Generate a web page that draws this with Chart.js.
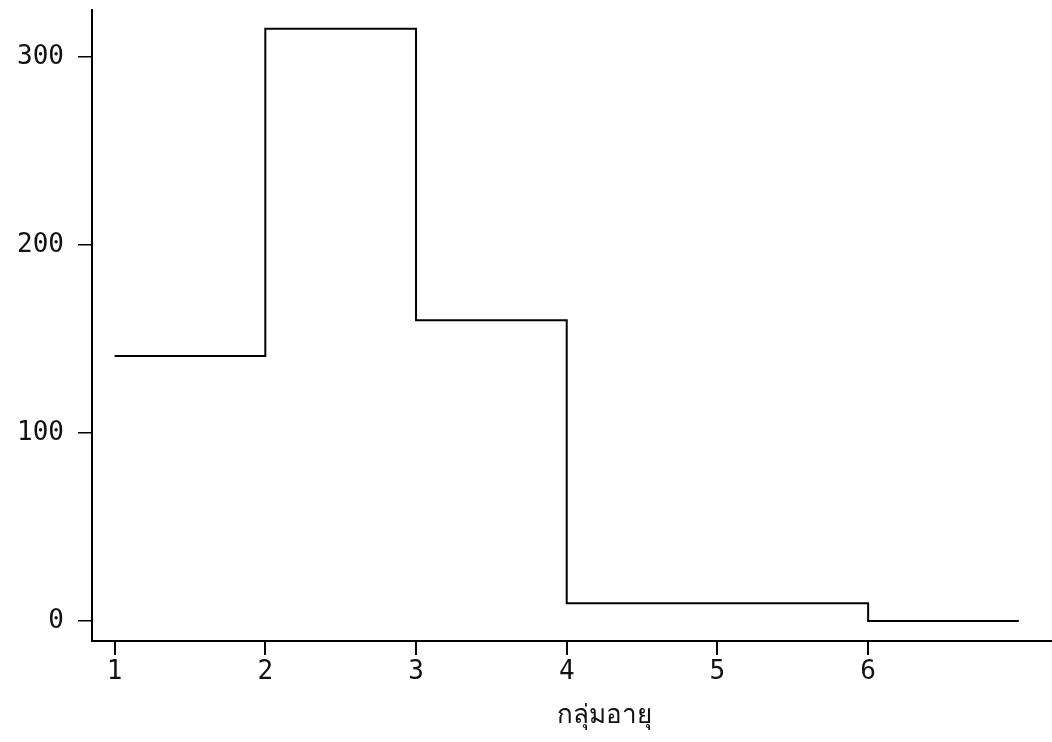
<!DOCTYPE html>
<html>
<head>
<meta charset="utf-8">
<script src="https://cdn.jsdelivr.net/npm/chart.js@4/dist/chart.umd.min.js"></script>
<style>
html,body{margin:0;padding:0;background:#fff;}
#wrap{width:1052px;height:742px;position:relative;}
</style>
</head>
<body>
<div id="wrap"><canvas id="c" width="1052" height="742"></canvas></div>
<script>
// Data
const ageGroups = [1, 2, 3, 4, 6, 7];          // step boundaries (age group index)
const counts    = [141, 315, 160, 9.5, 0, 0];  // value held from each boundary to the next
const yTickValues = [0, 100, 200, 300];
const xTickValues = [1, 2, 3, 4, 5, 6];
const xAxisTitle = 'กลุ่มอายุ';

const points = ageGroups.map((x, i) => ({x: x, y: counts[i]}));

const tickFont = {family: '"DejaVu Sans Mono", "Liberation Mono", monospace', size: 26};

const titlePlugin = {
  id: 'xTitle',
  afterDraw(chart) {
    const ctx = chart.ctx;
    const xs = chart.scales.x;
    ctx.save();
    ctx.fillStyle = '#111';
    ctx.font = '26px "Noto Sans", "DejaVu Sans", sans-serif';
    ctx.textAlign = 'center';
    ctx.textBaseline = 'middle';
    ctx.fillText(xAxisTitle, xs.getPixelForValue(4.25), 716);
    ctx.restore();
  }
};

new Chart(document.getElementById('c'), {
  type: 'line',
  data: {
    datasets: [{
      data: points,
      stepped: 'before',
      borderColor: '#000',
      borderWidth: 2,
      pointRadius: 0,
      fill: false,
      tension: 0
    }]
  },
  options: {
    responsive: false,
    animation: false,
    layout: {padding: {top: 10, right: 0, left: 0, bottom: 0}},
    plugins: {legend: {display: false}, tooltip: {enabled: false}},
    scales: {
      x: {
        type: 'linear',
        min: 0.85,
        max: 7.22,
        afterBuildTicks(scale) { scale.ticks = xTickValues.map(v => ({value: v})); },
        afterFit(scale) { scale.height = 101; scale.paddingLeft = 0; scale.paddingRight = 0; },
        grid: {drawOnChartArea: false, drawTicks: true, tickLength: 14, color: '#000', lineWidth: 2},
        border: {display: true, color: '#000', width: 2},
        ticks: {color: '#111', font: tickFont, padding: 2, maxRotation: 0,
          callback: v => String(v)}
      },
      y: {
        type: 'linear',
        min: -10.6,
        max: 325,
        afterBuildTicks(scale) { scale.ticks = yTickValues.map(v => ({value: v})); },
        afterFit(scale) { scale.width = 92; scale.paddingTop = 0; scale.paddingBottom = 0; },
        grid: {drawOnChartArea: false, drawTicks: true, tickLength: 14, color: '#000', lineWidth: 1.5},
        border: {display: true, color: '#000', width: 2},
        ticks: {color: '#111', font: tickFont, padding: 14,
          callback: v => String(v)}
      }
    }
  },
  plugins: [titlePlugin]
});
</script>
</body>
</html>
